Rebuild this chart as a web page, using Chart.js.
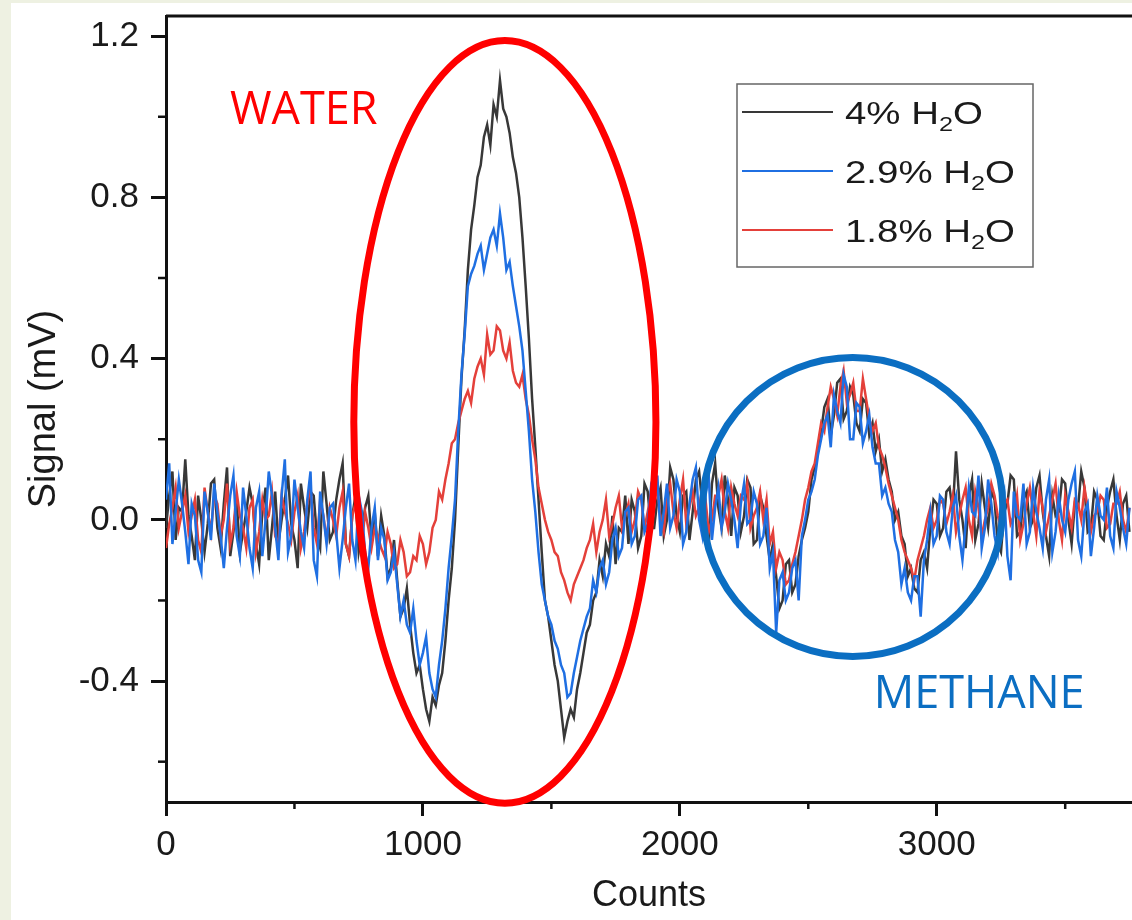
<!DOCTYPE html>
<html>
<head>
<meta charset="utf-8">
<title>Signal vs Counts</title>
<script src="https://cdn.jsdelivr.net/npm/chart.js@4.4.0/dist/chart.umd.min.js"></script>
<style>
  html, body { margin: 0; padding: 0; background: #ffffff; }
  #wrap { width: 1132px; height: 920px; }
</style>
</head>
<body>
<div id="wrap"><canvas id="chart" width="1132" height="920"></canvas></div>
<script>
// Signal traces, one value every 12.5 counts (0 .. 3750)
const countStep = 12.5;

const signal4 = [
  // 0 .. 800
  -0.02, 0.06, 0.12, -0.05, 0.03, 0.02, 0.15, 0.01, -0.04, -0.10,
  0.06, 0.00, -0.08, -0.01, 0.09, 0.10, -0.02, -0.07, 0.04, 0.13,
  -0.09, -0.03, 0.05, -0.08, -0.03, 0.02, 0.08, 0.04, -0.06, -0.11,
  0.02, 0.08, -0.10, -0.02, 0.07, -0.06, 0.00, 0.05, 0.11, -0.01,
  -0.05, -0.12, 0.09, 0.03, -0.02, 0.07, 0.06, -0.04, -0.07, 0.12,
  0.04, -0.05, -0.03, 0.05, 0.10, 0.14, -0.06, -0.09, 0.01, 0.06,
  -0.08, -0.03, 0.03, 0.06, -0.05,
  // 812.5 .. 1887.5 (water)
  0.02, -0.09, 0.01, -0.04, -0.14, -0.12, -0.05, -0.15, -0.24, -0.22,
  -0.17, -0.26, -0.33, -0.38, -0.36, -0.42, -0.47, -0.50, -0.44, -0.46,
  -0.41, -0.38, -0.30, -0.20, -0.12, 0.00, 0.18, 0.35, 0.47, 0.62,
  0.72, 0.78, 0.85, 0.88, 0.95, 0.98, 0.93, 1.03, 1.00, 1.09,
  1.02, 1.00, 0.96, 0.90, 0.86, 0.80, 0.70, 0.58, 0.45, 0.30,
  0.18, 0.05, -0.08, -0.20, -0.24, -0.30, -0.36, -0.40, -0.47, -0.54,
  -0.50, -0.47, -0.49, -0.42, -0.38, -0.33, -0.28, -0.26, -0.20, -0.18,
  -0.10, -0.14, -0.06, -0.09, 0.01, -0.11, -0.02, -0.03, 0.06, -0.06,
  0.05, 0.02, -0.07, -0.04, 0.09, 0.07, -0.02,
  // 1900 .. 2312.5
  -0.02, 0.05, 0.08, -0.04, 0.00, 0.13, 0.10, 0.01, -0.03, 0.06,
  0.07, -0.05, 0.02, 0.10, 0.12, 0.04, -0.01, -0.06, 0.09, 0.14,
  0.03, -0.02, 0.11, 0.05, -0.04, 0.08, 0.06, -0.03, 0.01, 0.10,
  0.08, -0.06, -0.05, 0.06,
  // 2325 .. 3037.5 (methane)
  0.03, -0.04, -0.10, -0.06, -0.14, -0.22, -0.20, -0.11, -0.10, -0.18,
  -0.16, -0.09, -0.05, -0.02, 0.02, 0.10, 0.13, 0.17, 0.22, 0.28,
  0.30, 0.21, 0.26, 0.34, 0.35, 0.25, 0.27, 0.33, 0.31, 0.24,
  0.22, 0.30, 0.29, 0.21, 0.24, 0.17, 0.20, 0.12, 0.15, 0.10,
  0.07, 0.00, 0.02, -0.04, -0.06, -0.14, -0.12, -0.17, -0.18, -0.10,
  -0.08, -0.12, -0.02, 0.05, 0.04, -0.04, -0.02, 0.07,
  // 3050 .. 3750
  0.08, 0.02, 0.17, 0.05, 0.00, -0.07, 0.06, 0.10, -0.05, -0.01,
  0.09, 0.03, -0.02, 0.07, 0.05, -0.06, -0.08, 0.02, 0.04, 0.11,
  0.10, -0.04, -0.03, 0.05, 0.07, -0.02, 0.00, 0.08, 0.11, 0.02,
  -0.04, -0.09, 0.06, 0.01, 0.02, 0.10, 0.09, 0.00, -0.06, 0.04,
  0.03, 0.12, 0.08, -0.03, -0.02, 0.07, 0.05, -0.04, -0.05, 0.03,
  0.07, 0.10, 0.01, -0.05, 0.04, 0.06, -0.03
];

const signal29 = [
  // 0 .. 800
  0.05, 0.14, -0.06, 0.02, 0.10, 0.04, -0.03, -0.11, 0.04, 0.01,
  -0.10, -0.13, 0.07, 0.02, -0.05, 0.09, 0.02, -0.04, -0.12, -0.02,
  0.06, 0.11, -0.04, -0.09, 0.08, 0.01, -0.07, -0.12, 0.03, 0.07,
  -0.09, 0.00, 0.12, 0.06, -0.02, -0.10, 0.06, 0.15, -0.08, -0.04,
  0.10, 0.03, -0.03, -0.07, 0.05, 0.12, -0.10, -0.14, 0.07, 0.01,
  -0.06, 0.03, 0.04, -0.03, -0.12, -0.05, 0.03, 0.09, -0.05, -0.10,
  0.06, 0.02, -0.08, -0.12, -0.02,
  // 812.5 .. 1887.5 (water)
  0.03, -0.10, -0.02, -0.05, -0.15, -0.13, -0.08, -0.16, -0.24, -0.20,
  -0.26, -0.28, -0.22, -0.30, -0.36, -0.33, -0.29, -0.38, -0.42, -0.44,
  -0.36, -0.30, -0.22, -0.12, -0.04, 0.05, 0.22, 0.36, 0.46, 0.58,
  0.61, 0.63, 0.66, 0.68, 0.62, 0.66, 0.70, 0.72, 0.68, 0.76,
  0.70, 0.62, 0.64, 0.58, 0.53, 0.48, 0.42, 0.32, 0.22, 0.10,
  0.02, -0.08, -0.16, -0.20, -0.24, -0.26, -0.30, -0.32, -0.36, -0.38,
  -0.44, -0.43, -0.38, -0.34, -0.30, -0.27, -0.24, -0.22, -0.15, -0.18,
  -0.12, -0.10, -0.16, -0.13, -0.05, -0.02, -0.09, -0.07, 0.02, 0.03,
  -0.06, -0.04, 0.05, 0.06, -0.03, -0.01, 0.08,
  // 1900 .. 2312.5
  0.05, 0.11, -0.04, 0.02, 0.09, -0.02, 0.01, 0.10, 0.07, -0.06,
  -0.03, 0.04, 0.10, 0.13, 0.00, -0.04, 0.06, 0.11, -0.05, 0.03,
  0.08, -0.02, 0.02, 0.09, 0.05, 0.00, -0.07, 0.04, 0.09, -0.01,
  0.00, 0.07, 0.04, -0.06,
  // 2325 .. 3037.5 (methane)
  -0.04, 0.03, -0.12, -0.08, -0.28, -0.15, -0.13, -0.20, -0.18, -0.12,
  -0.10, -0.20, -0.04, 0.00, 0.05, 0.07, 0.10, 0.16, 0.20, 0.24,
  0.26, 0.18, 0.31, 0.27, 0.24, 0.36, 0.33, 0.20, 0.20, 0.29,
  0.28, 0.19, 0.22, 0.26, 0.18, 0.14, 0.14, 0.06, 0.08, 0.04,
  0.02, -0.05, -0.08, -0.16, -0.12, -0.18, -0.20, -0.14, -0.14, -0.24,
  -0.10, -0.05, 0.02, -0.06, -0.04, 0.06, 0.05, -0.03,
  // 3050 .. 3750
  -0.06, 0.03, 0.06, -0.04, -0.10, -0.01, 0.08, 0.02, 0.01, 0.11,
  -0.07, -0.02, 0.10, 0.04, -0.04, -0.08, 0.04, 0.07, -0.09, -0.15,
  0.07, 0.01, 0.00, 0.09, -0.06, -0.03, 0.08, 0.02, -0.02, -0.07,
  0.05, 0.10, -0.08, -0.03, 0.06, 0.00, -0.03, 0.05, 0.09, 0.12,
  -0.05, -0.09, 0.02, 0.04, -0.09, -0.02, 0.06, 0.01, 0.00, 0.08,
  -0.04, -0.07, 0.07, 0.03, -0.02, -0.06, 0.03
];

const signal18 = [
  // 0 .. 800
  -0.07, -0.01, 0.03, 0.08, -0.02, 0.02, 0.06, -0.03, 0.01, 0.05,
  -0.05, -0.08, 0.08, 0.02, -0.03, 0.06, 0.04, -0.04, 0.00, 0.09,
  -0.06, -0.02, 0.07, 0.01, -0.02, -0.07, 0.03, 0.05, -0.08, -0.03,
  0.05, 0.00, 0.01, 0.07, -0.04, -0.06, 0.06, 0.02, -0.01, -0.05,
  0.02, 0.06, -0.07, -0.03, 0.04, 0.08, -0.02, -0.06, 0.05, 0.01,
  -0.05, 0.03, 0.00, -0.04, 0.03, 0.07, -0.06, -0.09, 0.01, 0.04,
  -0.03, -0.06, 0.02, -0.02, -0.07,
  // 812.5 .. 1887.5 (water)
  -0.02, -0.04, -0.07, -0.09, -0.03, -0.06, -0.12, -0.11, -0.05, -0.08,
  -0.14, -0.13, -0.09, -0.10, -0.04, -0.06, -0.11, -0.08, -0.02, 0.00,
  0.07, 0.05, 0.10, 0.14, 0.19, 0.20, 0.24, 0.27, 0.30, 0.32,
  0.29, 0.35, 0.38, 0.40, 0.36, 0.46, 0.41, 0.42, 0.48, 0.47,
  0.42, 0.40, 0.44, 0.37, 0.34, 0.33, 0.36, 0.30, 0.26, 0.20,
  0.15, 0.08, 0.04, 0.00, -0.03, -0.05, -0.08, -0.09, -0.13, -0.15,
  -0.18, -0.20, -0.16, -0.14, -0.12, -0.10, -0.07, -0.05, -0.01, -0.08,
  -0.03, 0.00, 0.05, -0.04, -0.01, 0.03, 0.06, -0.02, 0.01, 0.04,
  -0.03, 0.00, 0.07, 0.05, -0.02, 0.02, 0.06,
  // 1900 .. 2312.5
  0.04, 0.08, 0.00, -0.03, 0.06, 0.09, 0.02, -0.02, 0.05, 0.10,
  -0.01, 0.03, 0.07, 0.01, 0.03, 0.08, 0.05, -0.03, 0.00, 0.06,
  0.06, 0.10, 0.02, -0.02, 0.08, 0.04, 0.01, 0.06, 0.05, 0.09,
  -0.02, 0.01, 0.03, 0.07,
  // 2325 .. 3037.5 (methane)
  0.00, 0.05, -0.06, -0.03, -0.12, -0.08, -0.10, -0.16, -0.15, -0.11,
  -0.08, -0.04, 0.00, 0.05, 0.08, 0.12, 0.14, 0.19, 0.24, 0.22,
  0.28, 0.33, 0.30, 0.26, 0.33, 0.37, 0.29, 0.31, 0.34, 0.27,
  0.27, 0.35, 0.30, 0.25, 0.22, 0.24, 0.18, 0.16, 0.13, 0.09,
  0.06, 0.03, 0.00, -0.05, -0.08, -0.10, -0.12, -0.15, -0.10, -0.07,
  -0.04, 0.00, 0.03, -0.02, 0.00, 0.05, 0.04, -0.01,
  // 3050 .. 3750
  0.02, 0.06, -0.03, 0.01, 0.05, 0.08, 0.00, -0.04, 0.07, 0.03,
  -0.04, 0.00, 0.03, 0.09, 0.06, 0.01, -0.02, 0.04, 0.05, -0.01,
  0.01, 0.06, -0.05, -0.01, 0.04, 0.08, 0.02, -0.04, 0.07, 0.03,
  -0.03, 0.01, 0.05, 0.09, 0.00, -0.05, 0.06, 0.02, -0.02, 0.05,
  0.04, 0.00, 0.08, 0.03, -0.03, 0.01, 0.02, 0.06, 0.05, -0.02,
  -0.01, 0.04, 0.04, 0.07, 0.00, -0.03, 0.03
];

const counts = signal4.map((v, i) => i * countStep);

const xTicks = [0, 1000, 2000, 3000];
const xMinorTicks = [500, 1500, 2500, 3500];
const yTicks = [-0.4, 0.0, 0.4, 0.8, 1.2];
const yMinorTicks = [-0.6, -0.2, 0.2, 0.6, 1.0];

// legend names split as [before subscript, subscript, after]
const legendNames = [['4% H', '2', 'O'], ['2.9% H', '2', 'O'], ['1.8% H', '2', 'O']];
const seriesColors = ['#383838', '#1f6fe2', '#e4403a'];

// hand-drawn annotations, in data units
const waterMark = { x: 1319, y: 0.243, rx: 588, ry: 0.946, label: 'WATER', labelX: 249, labelY: 0.983, color: '#ff0000' };
const methaneMark = { x: 2673, y: 0.032, rx: 584, ry: 0.371, label: 'METHANE', labelX: 2755, labelY: -0.466, color: '#0b6ec2' };

const fontFamily = '"Liberation Sans", Arial, sans-serif';
const textColor = '#1a1a1a';

function toPoints(values) {
  return values.map((v, i) => ({ x: counts[i], y: v }));
}

const decorPlugin = {
  id: 'decor',
  beforeDraw(chart) {
    const ctx = chart.ctx;
    ctx.save();
    ctx.fillStyle = '#ffffff';
    ctx.fillRect(0, 0, chart.width, chart.height);
    ctx.fillStyle = '#eef1e2';
    ctx.fillRect(0, 0, 11, chart.height);
    ctx.fillRect(0, 0, chart.width, 3);
    ctx.restore();
  },
  afterDraw(chart) {
    const ctx = chart.ctx;
    const area = chart.chartArea;
    const xs = chart.scales.x;
    const ys = chart.scales.y;
    ctx.save();

    // top frame line
    ctx.strokeStyle = '#111';
    ctx.lineWidth = 3;
    ctx.beginPath();
    ctx.moveTo(area.left, area.top);
    ctx.lineTo(area.right, area.top);
    ctx.stroke();

    // minor ticks
    ctx.lineWidth = 2.5;
    xMinorTicks.forEach(v => {
      const px = xs.getPixelForValue(v);
      ctx.beginPath();
      ctx.moveTo(px, area.bottom);
      ctx.lineTo(px, area.bottom + 7);
      ctx.stroke();
    });
    yMinorTicks.forEach(v => {
      const py = ys.getPixelForValue(v);
      ctx.beginPath();
      ctx.moveTo(area.left - 8, py);
      ctx.lineTo(area.left, py);
      ctx.stroke();
    });

    // ellipse / circle marks with labels
    [waterMark, methaneMark].forEach(m => {
      const cx = xs.getPixelForValue(m.x);
      const cy = ys.getPixelForValue(m.y);
      const rx = Math.abs(xs.getPixelForValue(m.x + m.rx) - cx);
      const ry = Math.abs(ys.getPixelForValue(m.y + m.ry) - cy);
      ctx.strokeStyle = m.color;
      ctx.lineWidth = 7;
      ctx.beginPath();
      ctx.ellipse(cx, cy, rx, ry, 0, 0, Math.PI * 2);
      ctx.stroke();

      ctx.fillStyle = m.color;
      ctx.font = '400 45px "Open Sans", sans-serif';
      ctx.textAlign = 'left';
      ctx.textBaseline = 'alphabetic';
      ctx.fillText(m.label, xs.getPixelForValue(m.labelX), ys.getPixelForValue(m.labelY));
    });

    // legend box
    const box = { left: 737, top: 84, width: 296, height: 183 };
    ctx.fillStyle = '#ffffff';
    ctx.fillRect(box.left, box.top, box.width, box.height);
    ctx.strokeStyle = '#666';
    ctx.lineWidth = 1.5;
    ctx.strokeRect(box.left, box.top, box.width, box.height);

    const rowY = [112, 171, 230];
    legendNames.forEach((parts, i) => {
      const y = rowY[i];
      ctx.strokeStyle = seriesColors[i];
      ctx.lineWidth = 2;
      ctx.beginPath();
      ctx.moveTo(box.left + 5, y);
      ctx.lineTo(box.left + 96, y);
      ctx.stroke();

      // text is a little wide in the source figure
      ctx.save();
      ctx.translate(box.left + 108, y);
      ctx.scale(1.2, 1);
      let x = 0;
      ctx.fillStyle = textColor;
      ctx.textAlign = 'left';
      ctx.textBaseline = 'middle';
      ctx.font = '32px ' + fontFamily;
      ctx.fillText(parts[0], x, 3);
      x += ctx.measureText(parts[0]).width;
      ctx.font = '21px ' + fontFamily;
      ctx.fillText(parts[1], x, 13);
      x += ctx.measureText(parts[1]).width;
      ctx.font = '32px ' + fontFamily;
      ctx.fillText(parts[2], x, 3);
      ctx.restore();
    });

    ctx.restore();
  }
};

new Chart(document.getElementById('chart'), {
  type: 'line',
  data: {
    datasets: [
      { label: '2.9% H2O', data: toPoints(signal29), borderColor: seriesColors[1] },
      { label: '1.8% H2O', data: toPoints(signal18), borderColor: seriesColors[2] },
      { label: '4% H2O', data: toPoints(signal4), borderColor: seriesColors[0] }
    ]
  },
  options: {
    responsive: false,
    animation: false,
    layout: { padding: { top: 16, right: 0, bottom: 0, left: 0 } },
    elements: {
      point: { radius: 0 },
      line: { borderWidth: 2.5, tension: 0, fill: false }
    },
    plugins: {
      legend: { display: false },
      tooltip: { enabled: false }
    },
    scales: {
      x: {
        type: 'linear',
        min: 0,
        max: 3760,
        afterBuildTicks: scale => { scale.ticks = xTicks.map(v => ({ value: v })); },
        afterFit: scale => {
          scale.height = 118;
          scale.paddingLeft = 0;
          scale.paddingRight = 0;
        },
        ticks: {
          font: { family: fontFamily, size: 35 },
          color: textColor,
          padding: 8,
          maxRotation: 0,
          callback: v => String(v)
        },
        grid: { display: true, drawOnChartArea: false, drawTicks: true, tickLength: 14, tickWidth: 3, tickColor: '#111' },
        border: { display: true, color: '#111', width: 3 },
        title: {
          display: true,
          text: 'Counts',
          font: { family: fontFamily, size: 36 },
          color: textColor,
          padding: { top: 0, bottom: 2 }
        }
      },
      y: {
        type: 'linear',
        min: -0.7,
        max: 1.25,
        afterBuildTicks: scale => { scale.ticks = yTicks.map(v => ({ value: v })); },
        afterFit: scale => {
          scale.width = 166;
          scale.paddingTop = 0;
          scale.paddingBottom = 0;
        },
        ticks: {
          font: { family: fontFamily, size: 35 },
          color: textColor,
          padding: 12,
          callback: v => v.toFixed(1)
        },
        grid: { display: true, drawOnChartArea: false, drawTicks: true, tickLength: 15, tickWidth: 3, tickColor: '#111' },
        border: { display: true, color: '#111', width: 3 },
        title: {
          display: true,
          text: 'Signal (mV)',
          font: { family: fontFamily, size: 38 },
          color: textColor,
          padding: { top: 22, bottom: 0 }
        }
      }
    }
  },
  plugins: [decorPlugin]
});
</script>
</body>
</html>
